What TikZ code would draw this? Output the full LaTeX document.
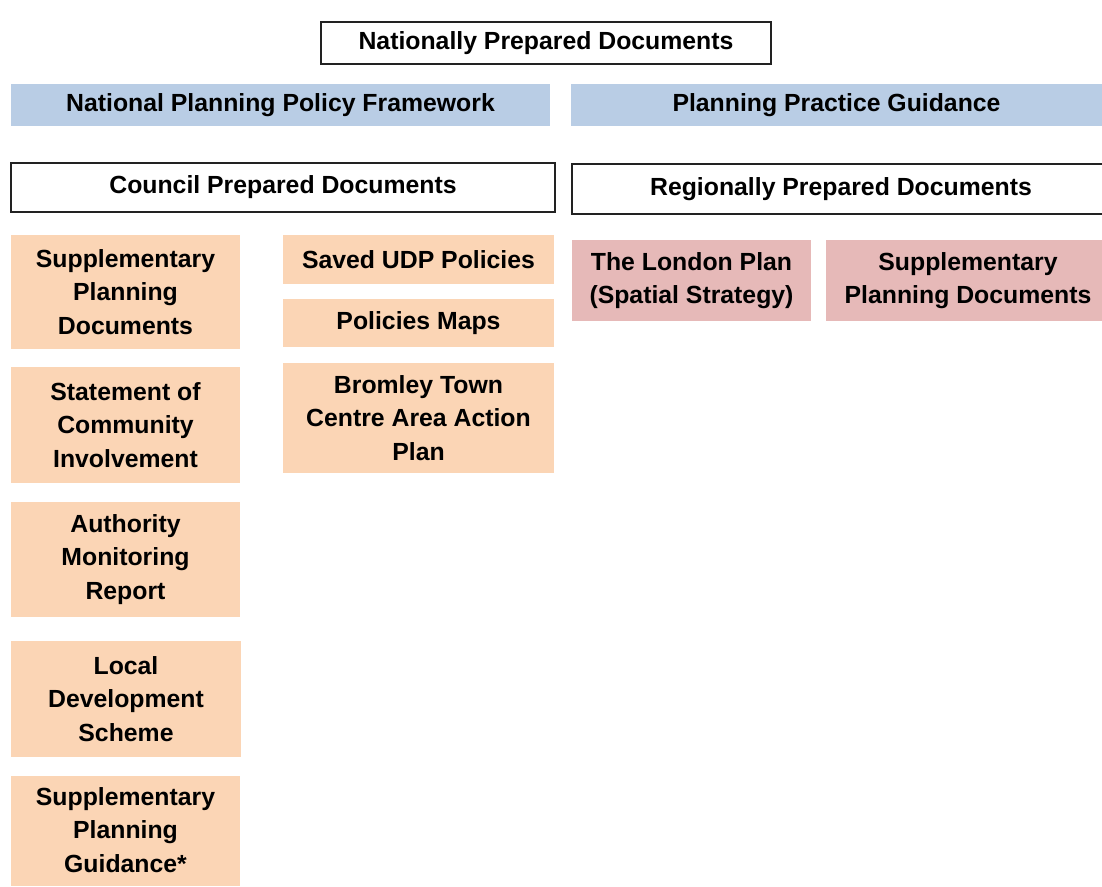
\documentclass[tikz,border=0pt]{standalone}
\usepackage{fontspec}
\setmainfont{Liberation Sans}
\definecolor{npblue}{HTML}{B9CDE5}
\definecolor{cporange}{HTML}{FBD5B5}
\definecolor{rppink}{HTML}{E6B9B8}
\definecolor{boxline}{HTML}{222222}
\tikzset{
  base/.style={inner sep=0pt, outer sep=0pt, align=center, font=\fontsize{24.8}{33.5}\selectfont\bfseries, text=black},
  lbl/.style={base}
}
\newcommand{\pbox}[7]{% style, name, x1, y1, x2, y2, text
  \path[#1] (#3pt,-#4pt) rectangle (#5pt,-#6pt);
  \node[lbl] (#2) at ({(#3+#5)/2*1pt},{-(#4+#6)/2*1pt}) {#7};
}
\begin{document}
\begin{tikzpicture}[x=1pt,y=1pt]
\useasboundingbox (0,0) rectangle (1102,-886);
% header boxes
\pbox{draw=boxline, line width=1.4pt, fill=white}{npd}{321}{22}{771}{64}{Nationally Prepared Documents}
\pbox{fill=npblue}{nppf}{11}{84}{550}{126}{National Planning Policy Framework}
\pbox{fill=npblue}{ppg}{571}{84}{1102}{126}{Planning Practice Guidance}
\pbox{draw=boxline, line width=1.4pt, fill=white}{cpd}{11}{163}{555}{212}{Council Prepared Documents}
\pbox{draw=boxline, line width=1.4pt, fill=white}{rpd}{572}{164}{1110}{214}{Regionally Prepared Documents}
% council column 1
\pbox{fill=cporange}{spd}{11}{235}{240}{349}{Supplementary\\Planning\\Documents}
\pbox{fill=cporange}{sci}{11}{367}{240}{483}{Statement of\\Community\\Involvement}
\pbox{fill=cporange}{amr}{11}{502}{240}{617}{Authority\\Monitoring\\Report}
\pbox{fill=cporange}{lds}{11}{641}{241}{757}{Local\\Development\\Scheme}
\path[fill=cporange] (11,-776) rectangle (240,-886);
\node[lbl] (spg) at (125.5,-830) {Supplementary\\Planning\\Guidance*};
% council column 2
\pbox{fill=cporange}{udp}{283}{235}{554}{284}{Saved UDP Policies}
\pbox{fill=cporange}{maps}{283}{299}{554}{347}{Policies Maps}
\pbox{fill=cporange}{btc}{283}{363}{554}{473}{Bromley Town\\Centre Area Action\\Plan}
% regional
\pbox{fill=rppink}{lp}{572}{240}{811}{321}{The London Plan\\(Spatial Strategy)}
\pbox{fill=rppink}{rspd}{826}{240}{1110}{321}{Supplementary\\Planning Documents}
\end{tikzpicture}
\end{document}
